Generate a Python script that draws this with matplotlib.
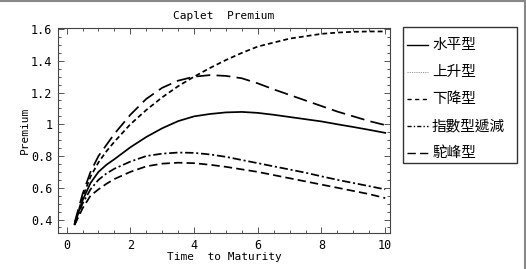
import matplotlib
matplotlib.use("Agg")
import matplotlib.pyplot as plt
from matplotlib.lines import Line2D
from matplotlib.patches import Rectangle
from matplotlib.ticker import MultipleLocator, FixedLocator

plt.rcParams['lines.scale_dashes'] = False

# time to maturity (years)
t = [0.25, 0.5, 0.75, 1.0, 1.25, 1.5, 2.0, 2.5, 3.0, 3.5, 4.0, 4.5, 5.0,
     5.5, 6.0, 6.5, 7.0, 7.5, 8.0, 8.5, 9.0, 9.5, 10.0]

# caplet premium for each term-structure shape
flat = [0.37, 0.52, 0.63, 0.70, 0.745, 0.78, 0.855, 0.92, 0.975, 1.02, 1.05,
        1.065, 1.075, 1.078, 1.072, 1.06, 1.046, 1.032, 1.018, 1.0, 0.983,
        0.965, 0.946]
upward = [0.37, 0.54, 0.67, 0.76, 0.83, 0.89, 1.0, 1.09, 1.17, 1.24, 1.30,
          1.355, 1.405, 1.45, 1.49, 1.515, 1.54, 1.555, 1.57, 1.578, 1.583,
          1.585, 1.585]
downward = [0.365, 0.47, 0.55, 0.59, 0.625, 0.655, 0.70, 0.735, 0.752, 0.758,
            0.755, 0.745, 0.732, 0.716, 0.70, 0.68, 0.66, 0.64, 0.62, 0.60,
            0.58, 0.56, 0.535]
expdecay = [0.37, 0.50, 0.59, 0.65, 0.69, 0.72, 0.765, 0.80, 0.815, 0.822,
            0.82, 0.81, 0.795, 0.775, 0.755, 0.735, 0.715, 0.695, 0.672, 0.65,
            0.63, 0.61, 0.59]
hump = [0.38, 0.56, 0.70, 0.80, 0.87, 0.94, 1.06, 1.16, 1.23, 1.275, 1.30,
        1.31, 1.305, 1.29, 1.258, 1.22, 1.185, 1.15, 1.115, 1.08, 1.05, 1.02,
        0.995]

labels = [u'水平型', u'上升型', u'下降型', u'指數型遞減', u'駝峰型']

W, H = 526, 269
fig = plt.figure(figsize=(W / 100, H / 100), dpi=100)
ax = fig.add_axes([58 / W, 1 - 233 / H, (390 - 58) / W, (233 - 27.5) / H])

lw = 1.25
ax.plot(t, flat, color='black', lw=lw)
ax.plot(t, upward, color='black', lw=lw, dashes=(3.5, 2.2))
ax.plot(t, downward, color='black', lw=lw, dashes=(6, 3))
ax.plot(t, expdecay, color='black', lw=lw, dashes=(6, 2, 1.5, 2))
ax.plot(t, hump, color='black', lw=lw, dashes=(10, 4.5))

ax.set_xlim(-0.27, 10.15)
ax.set_ylim(0.315, 1.61)

mono = 'DejaVu Sans Mono'
ax.xaxis.set_major_locator(MultipleLocator(2))
ax.xaxis.set_minor_locator(MultipleLocator(0.5))
yt = [0.4, 0.6, 0.8, 1.0, 1.2, 1.4, 1.6]
ax.yaxis.set_major_locator(FixedLocator(yt))
ax.set_yticklabels(['0.4', '0.6', '0.8', '1', '1.2', '1.4', '1.6'])
ax.yaxis.set_minor_locator(MultipleLocator(0.05))
ax.tick_params(which='both', direction='in', top=True, right=True,
               color='#555555', width=0.7)
ax.tick_params(which='major', length=4, labelsize=8.5, pad=4)
ax.tick_params(which='minor', length=2)
for lab in ax.get_xticklabels() + ax.get_yticklabels():
    lab.set_family(mono)
for s in ax.spines.values():
    s.set_color('#444444')
    s.set_linewidth(0.8)

ax.set_title('Caplet  Premium', family=mono, fontsize=8, pad=6)
ax.set_xlabel('Time  to Maturity', family=mono, fontsize=8, labelpad=0)
ax.set_ylabel('Premium', family=mono, fontsize=8, labelpad=1)

# legend drawn by hand in pixel positions (box, sample line, label)
def fx(px):
    return px / W

def fy(py):
    return 1 - py / H

fig.add_artist(Rectangle((fx(403), fy(163)), fx(517) - fx(403), fy(27) - fy(163),
                         transform=fig.transFigure, fill=False,
                         edgecolor='#333333', lw=1.0))
styles = [
    dict(color='black', lw=1.0),
    dict(color='gray', lw=0.6, dashes=(0.8, 0.8)),
    dict(color='black', lw=1.0, dashes=(3, 2.5)),
    dict(color='black', lw=1.0, dashes=(3, 1.5, 1, 1.5)),
    dict(color='black', lw=1.0, dashes=(6, 3)),
]
for i, (lab, st) in enumerate(zip(labels, styles)):
    yc = 45 + 27.1 * i
    fig.add_artist(Line2D([fx(407), fx(428)], [fy(yc), fy(yc)], **st))
    fig.text(fx(432), fy(yc), lab, va='center', ha='left', fontsize=10.5,
             family=['Noto Sans CJK TC', 'DejaVu Sans'])

# grey border on top and right edges of the picture
fig.add_artist(Line2D([0, 1], [1 - 1 / H, 1 - 1 / H], color='#888888', lw=1.5))
fig.add_artist(Line2D([1 - 1.5 / W, 1 - 1.5 / W], [0, 1], color='#888888', lw=1.5))

fig.savefig('out.png', dpi=100)
